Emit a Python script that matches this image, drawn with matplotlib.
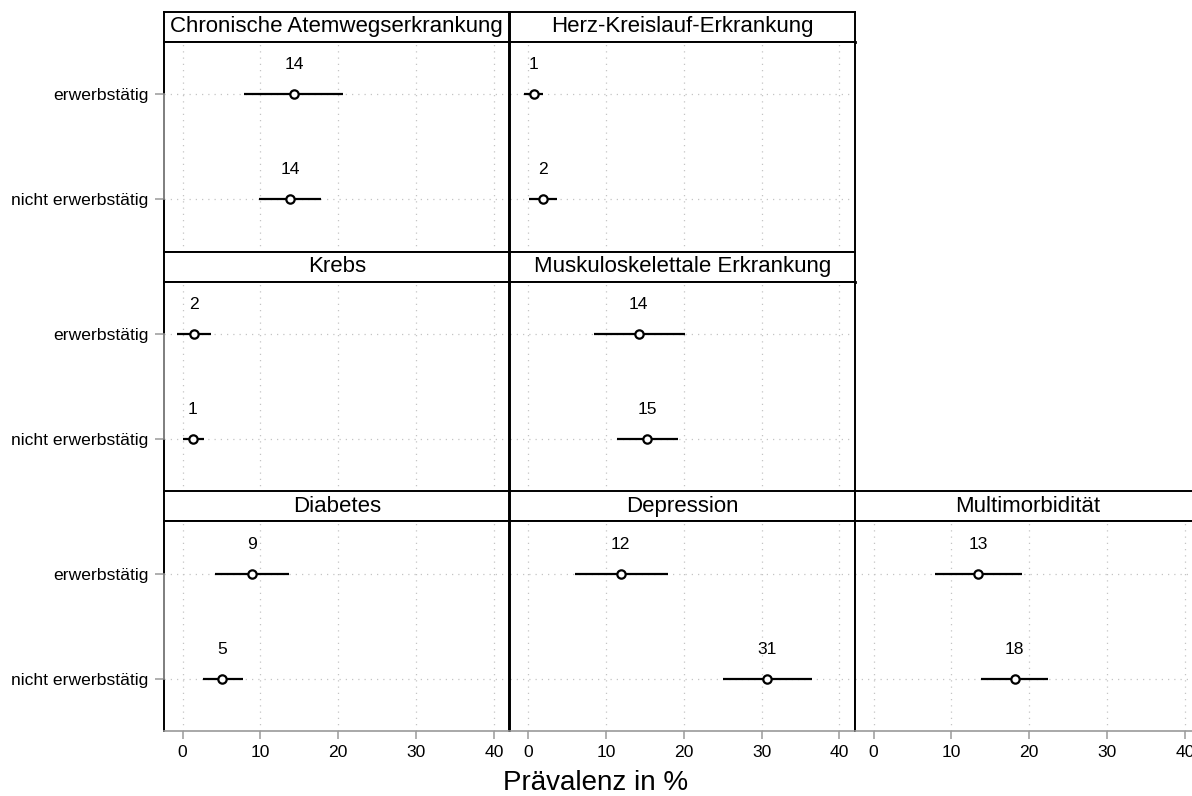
import matplotlib
matplotlib.use("Agg")
import matplotlib.pyplot as plt
from matplotlib.lines import Line2D

plt.rcParams['font.family'] = ['Liberation Sans', 'DejaVu Sans']

# ---------------- data ----------------
panels = ["Chronische Atemwegserkrankung", "Herz-Kreislauf-Erkrankung", "Krebs",
          "Muskuloskelettale Erkrankung", "Diabetes", "Depression", "Multimorbidität"]
groups = ["erwerbstätig", "nicht erwerbstätig"]

est_erw   = [14.3, 0.7, 1.5, 14.2, 8.9, 11.9, 13.4]
lo_erw    = [7.9, -0.6, -0.7, 8.4, 4.1, 6.0, 7.9]
hi_erw    = [20.6, 1.95, 3.7, 20.1, 13.7, 17.95, 19.0]
lab_erw   = [14, 1, 2, 14, 9, 12, 13]

est_nicht = [13.8, 1.9, 1.3, 15.3, 5.1, 30.7, 18.1]
lo_nicht  = [9.85, 0.15, 0.0, 11.4, 2.55, 25.0, 13.75]
hi_nicht  = [17.8, 3.65, 2.8, 19.3, 7.7, 36.5, 22.4]
lab_nicht = [14, 2, 1, 15, 5, 31, 18]

xticks = [0, 10, 20, 30, 40]
xlabel = "Prävalenz in %"

# ---------------- layout (pixels) ----------------
W, H = 1192, 796
fig = plt.figure(figsize=(W / 100, H / 100), dpi=100)

col_left = [164, 509.5, 855]
col_w = 345.5
strip_top = [11.5, 251.5, 491.3]
strip_h = 30
plot_h = 210
grid_pos = [(0, 0), (0, 1), (1, 0), (1, 1), (2, 0), (2, 1), (2, 2)]

def fax(left, top, w, h):
    return fig.add_axes([left / W, 1 - (top + h) / H, w / W, h / H])

GRAY = '#9a9a9a'
FS = 12.6

for i, name in enumerate(panels):
    r, c = grid_pos[i]
    left = col_left[c]
    st = strip_top[r]
    # strip
    sax = fax(left, st, col_w, strip_h)
    sax.set_xticks([]); sax.set_yticks([])
    for sp in sax.spines.values():
        sp.set_color('black'); sp.set_linewidth(1.4)
    sax.spines['bottom'].set_linewidth(2.0)
    sax.text(0.5, 0.5, name, ha='center', va='center', fontsize=16,
             transform=sax.transAxes)
    # plot area
    ax = fax(left, st + strip_h, col_w, plot_h)
    ax.set_xlim(-2.4, 42)
    ax.set_ylim(2.5, 0.5)
    ax.set_xticks(xticks)
    ax.set_yticks([1, 2])
    ax.grid(True, color='#c4c4c4', linestyle=(0, (1, 4)), linewidth=0.9)
    ax.set_axisbelow(True)

    for sp in ['top', 'right']:
        ax.spines[sp].set_color('black'); ax.spines[sp].set_linewidth(1.4)

    last_row = (r == 2)
    if last_row:
        ax.spines['bottom'].set_color(GRAY); ax.spines['bottom'].set_linewidth(1.2)
        ax.tick_params(axis='x', colors=GRAY, length=6, width=1.1, pad=4,
                       labelsize=FS, labelcolor='black')
    else:
        ax.spines['bottom'].set_color('black'); ax.spines['bottom'].set_linewidth(1.4)
        ax.tick_params(axis='x', length=0, labelbottom=False)

    # black frame on left
    ax.add_line(Line2D([0, 0], [0, 1], transform=ax.transAxes, color='black',
                       lw=1.4, clip_on=False, zorder=2.4))
    if c == 0:
        ax.spines['left'].set_color(GRAY); ax.spines['left'].set_linewidth(1.2)
        ax.spines['left'].set_bounds(1, 2)
        ax.set_yticklabels(groups)
        ax.tick_params(axis='y', colors=GRAY, length=6.5, width=1.1, pad=4.5,
                       labelsize=FS, labelcolor='black')
    else:
        ax.spines['left'].set_visible(False)
        ax.tick_params(axis='y', length=0, labelleft=False)

    ests = [est_erw[i], est_nicht[i]]
    los = [lo_erw[i], lo_nicht[i]]
    his = [hi_erw[i], hi_nicht[i]]
    labs = [lab_erw[i], lab_nicht[i]]
    for j in range(2):
        y = j + 1
        ax.plot([los[j], his[j]], [y, y], color='black', lw=1.6, zorder=3,
                solid_capstyle='butt')
        ax.plot([ests[j]], [y], marker='o', markersize=6.0, mfc='white',
                mec='black', mew=1.6, linestyle='none', zorder=4)
        ax.annotate(str(labs[j]), xy=(ests[j], y), xytext=(0, 21),
                    textcoords='offset points', ha='center', va='center',
                    fontsize=FS)

fig.text(0.5, 1 - 790 / H, xlabel, ha='center', va='baseline', fontsize=20)

fig.savefig("out.png", dpi=100)
